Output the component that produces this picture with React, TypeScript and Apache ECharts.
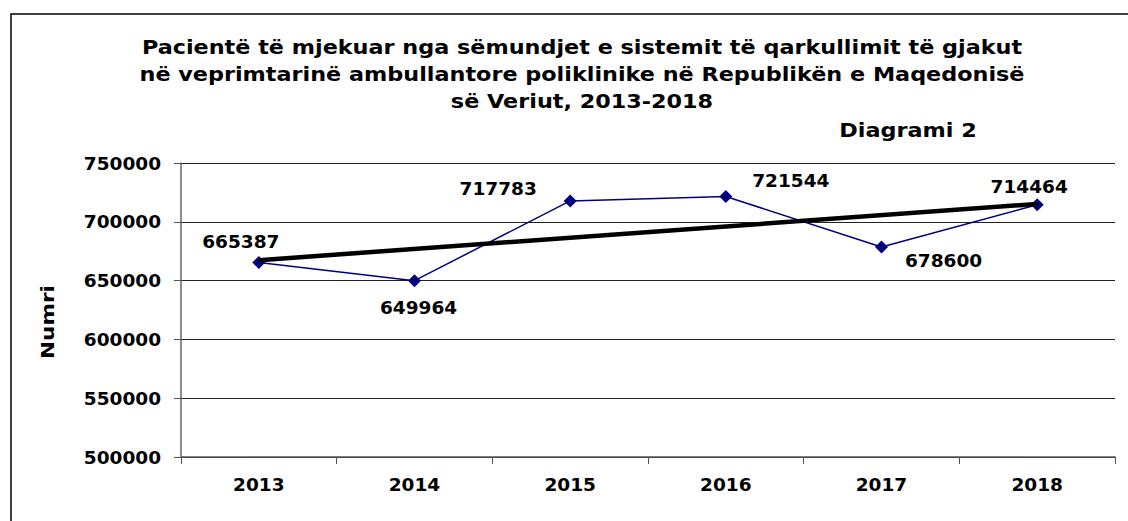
import React, { useEffect, useRef } from "react";
import * as echarts from "echarts";

const categories = ["2013", "2014", "2015", "2016", "2017", "2018"];
const patients = [665387, 649964, 717783, 721544, 678600, 714464];
// linear trend end points (2013 and 2018)
const trendEnds = [667358, 715223];
const yTicks = { min: 500000, max: 750000, interval: 50000 };
const titleLines = [
  "Pacientë të mjekuar nga sëmundjet e sistemit të qarkullimit të gjakut",
  "në veprimtarinë ambullantore poliklinike në Republikën e Maqedonisë",
  "së Veriut, 2013-2018",
];
const subTitle = "Diagrami 2";
const yName = "Numri";
// label offsets [dx, dy] for each point
const labelOffsets: [number, number][] = [
  [-18, -21],
  [4, 27],
  [-72, -12],
  [65, -16],
  [62, 14],
  [-8, -18],
];

const FONT = "DejaVu Sans";

export default function App() {
  const ref = useRef<HTMLDivElement>(null);
  useEffect(() => {
    if (!ref.current) return;
    const chart = echarts.init(ref.current, undefined, { renderer: "svg" });
    const trendData: (number | null)[] = categories.map(() => null);
    trendData[0] = trendEnds[0];
    trendData[categories.length - 1] = trendEnds[1];
    chart.setOption({
      animation: false,
      backgroundColor: "#ffffff",
      grid: { left: 181, top: 163, right: 13, bottom: 64, containLabel: false },
      xAxis: {
        type: "category",
        data: categories,
        boundaryGap: true,
        axisLine: { lineStyle: { color: "#555555", width: 1.5 } },
        axisTick: { show: true, length: 7, inside: false, lineStyle: { color: "#555555" } },
        axisLabel: {
          color: "#000",
          fontFamily: FONT,
          fontWeight: "bold",
          fontSize: 18.5,
          margin: 18,
        },
      },
      yAxis: {
        type: "value",
        min: yTicks.min,
        max: yTicks.max,
        interval: yTicks.interval,
        axisLine: { show: true, lineStyle: { color: "#666666", width: 1.5 } },
        axisTick: { show: true, length: 7, lineStyle: { color: "#555555" } },
        splitLine: { show: true, lineStyle: { color: "#222222", width: 1 } },
        axisLabel: {
          color: "#000",
          fontFamily: FONT,
          fontWeight: "bold",
          fontSize: 18.5,
          margin: 20,
          formatter: (v: number) => String(v),
        },
      },
      series: [
        {
          type: "line",
          data: patients.map((v, i) => ({
            value: v,
            label: {
              show: true,
              position: "inside",
              offset: labelOffsets[i],
              formatter: String(v),
            },
          })),
          symbol: "diamond",
          symbolSize: 13,
          lineStyle: { color: "#000080", width: 1.5 },
          itemStyle: { color: "#000080" },
          label: {
            show: true,
            color: "#000",
            fontFamily: FONT,
            fontWeight: "bold",
            fontSize: 18.5,
          },
          z: 2,
        },
        {
          type: "line",
          data: trendData,
          connectNulls: true,
          showSymbol: false,
          symbol: "none",
          lineStyle: { color: "#000000", width: 4.5 },
          z: 3,
          silent: true,
        },
      ],
      graphic: [
        {
          type: "rect",
          shape: { x: 11, y: 14, width: 1200, height: 600 },
          style: { fill: "none", stroke: "#000", lineWidth: 1.5 },
          silent: true,
        },
        ...titleLines.map((t, i) => ({
          type: "text",
          x: 582,
          y: 48 + i * 27,
          scaleX: 1.175,
          style: {
            text: t,
            textAlign: "center",
            textVerticalAlign: "middle",
            fill: "#000",
            font: `bold 19px '${FONT}'`,
          },
        })),
        {
          type: "text",
          x: 908,
          y: 131,
          scaleX: 1.175,
          style: {
            text: subTitle,
            textAlign: "center",
            textVerticalAlign: "middle",
            fill: "#000",
            font: `bold 19px '${FONT}'`,
          },
        },
        {
          type: "text",
          x: 48,
          y: 322,
          rotation: Math.PI / 2,
          scaleX: 1.2,
          style: {
            text: yName,
            textAlign: "center",
            textVerticalAlign: "middle",
            fill: "#000",
            font: `bold 18px '${FONT}'`,
          },
        },
      ],
    });
    return () => chart.dispose();
  }, []);
  return (
    <div
      ref={ref}
      style={{ position: "absolute", left: 0, top: 0, width: 1128, height: 521 }}
    />
  );
}
